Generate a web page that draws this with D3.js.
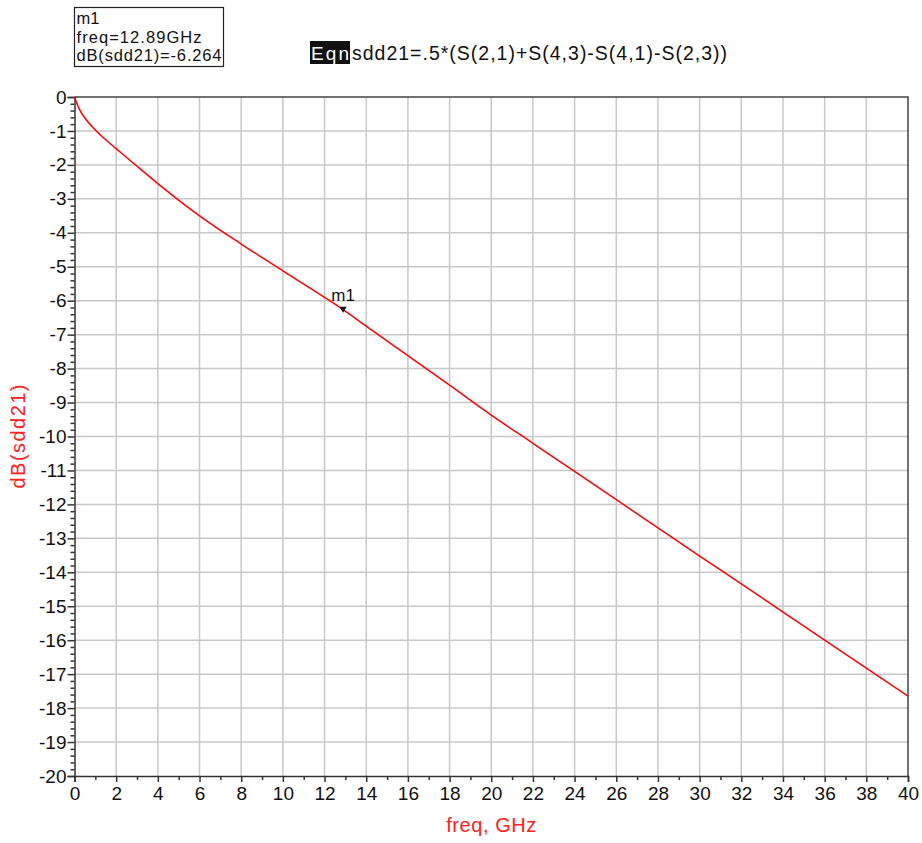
<!DOCTYPE html>
<html>
<head>
<meta charset="utf-8">
<script src="https://cdn.jsdelivr.net/npm/d3@7"></script>
<style>
  body { margin: 0; background: #fff; }
  svg { font-family: "Liberation Sans", Arial, sans-serif; }
</style>
</head>
<body>
<div id="chart"></div>
<script>
// curve: freq (GHz) -> dB(sdd21)
const freq = [0, 0.25, 0.5, 1, 1.5, 2, 3, 4, 6, 8, 10, 12, 12.89, 14, 16, 18, 20, 22, 24, 26, 28, 30, 32, 34, 36, 38, 40];
const sdd21 = [0, -0.38, -0.62, -0.97, -1.26, -1.52, -2.04, -2.55, -3.5, -4.33, -5.12, -5.9, -6.264, -6.75, -7.62, -8.49, -9.37, -10.2, -11.03, -11.86, -12.69, -13.52, -14.34, -15.17, -16.0, -16.82, -17.65];

const xTicks = d3.range(0, 41, 2);
const yTicks = d3.range(0, -21, -1);
const marker = { name: 'm1', f: 12.89, v: -6.264 };
const eqnText = 'sdd21=.5*(S(2,1)+S(4,3)-S(4,1)-S(2,3))';

const width = 922, height = 843;
const margin = [97, 67, 74.5, 14]; // top, bottom, left, right

const svg = d3.select('#chart').append('svg')
    .attr('width', width)
    .attr('height', height);

const x = d3.scaleLinear([0, 40], [margin[2], width - margin[3]]);
const y = d3.scaleLinear([-20, 0], [height - margin[1], margin[0]]);

// grid
const grid = svg.append('g').attr('stroke', '#c8c8c8').attr('stroke-width', 1.5);
grid.selectAll('.gx').data(xTicks.slice(1, -1)).join('line')
    .attr('x1', d => x(d)).attr('x2', d => x(d))
    .attr('y1', y(0)).attr('y2', y(-20));
grid.selectAll('.gy').data(yTicks.slice(1, -1)).join('line')
    .attr('y1', d => y(d)).attr('y2', d => y(d))
    .attr('x1', x(0)).attr('x2', x(40));

// frame (top and right)
svg.append('path')
    .attr('d', `M${x(0)},${y(0)}H${x(40)}V${y(-20)}`)
    .attr('fill', 'none').attr('stroke', '#444').attr('stroke-width', 1.5);

const fmt = d => String(d); // plain hyphen minus, as in the original

// axes
const xAxis = svg.append('g')
    .attr('transform', `translate(0,${y(-20)})`)
    .call(d3.axisBottom(x).tickValues(xTicks).tickSize(6).tickPadding(3).tickFormat(fmt));
svg.append('g')
    .attr('transform', `translate(0,${y(-20)})`)
    .call(d3.axisBottom(x).tickValues(d3.range(1, 40, 2)).tickSize(4).tickFormat(''))
    .call(g => g.select('.domain').remove());

svg.append('g')
    .attr('transform', `translate(${x(0)},0)`)
    .call(d3.axisLeft(y).tickValues(yTicks).tickSize(7).tickPadding(1).tickFormat(fmt));
svg.append('g')
    .attr('transform', `translate(${x(0)},0)`)
    .call(d3.axisLeft(y).tickValues(d3.range(-20, 0.01, 0.2).filter(v => Math.abs(v - Math.round(v)) > 0.01)).tickSize(4).tickFormat(''))
    .call(g => g.select('.domain').remove());

svg.selectAll('.domain').attr('stroke', '#333').attr('stroke-width', 1.5);
svg.selectAll('.tick line').attr('stroke', '#333').attr('stroke-width', 1.5);
svg.selectAll('.tick text').attr('font-size', 19).attr('fill', '#111')
    .attr('font-family', '"Liberation Sans", Arial, sans-serif');
xAxis.selectAll('.tick text').attr('dy', '0.8em');

// curve
svg.append('path')
    .datum(d3.zip(freq, sdd21))
    .attr('fill', 'none')
    .attr('stroke', '#ff0000')
    .attr('stroke-width', 1.5)
    .attr('d', d3.line().x(d => x(d[0])).y(d => y(d[1])).curve(d3.curveMonotoneX));

// marker
const mx = x(marker.f), my = y(marker.v);
svg.append('path')
    .attr('d', `M${mx - 3.5},${my - 3}L${mx + 3.5},${my - 3}L${mx},${my + 3}Z`)
    .attr('fill', '#111');
svg.append('text')
    .attr('x', mx).attr('y', my - 9)
    .attr('text-anchor', 'middle')
    .attr('font-size', 17).attr('fill', '#111')
    .text(marker.name);

// axis titles
svg.append('text')
    .attr('x', x(20)).attr('y', 832)
    .attr('text-anchor', 'middle')
    .attr('font-size', 20).attr('fill', '#ff2020')
    .attr('textLength', 90)
    .text('freq, GHz');
svg.append('text')
    .attr('transform', `translate(25,${y(-10)}) rotate(-90)`)
    .attr('text-anchor', 'middle')
    .attr('font-size', 20).attr('fill', '#ff2020')
    .attr('textLength', 104)
    .text('dB(sdd21)');

// marker readout box
svg.append('rect')
    .attr('x', 74.5).attr('y', 7.5).attr('width', 149).attr('height', 59)
    .attr('fill', '#fff').attr('stroke', '#222').attr('stroke-width', 1.2);
svg.selectAll('.mlabel')
    .data([marker.name, `freq=${marker.f}GHz`, `dB(sdd21)=${marker.v}`])
    .join('text')
    .attr('x', 76.5).attr('y', (d, i) => 24 + i * 18.5)
    .attr('font-size', 16.5).attr('fill', '#111')
    .attr('textLength', (d, i) => [null, 125, 145][i])
    .text(d => d);

// equation
svg.append('rect')
    .attr('x', 310).attr('y', 41).attr('width', 40).attr('height', 23)
    .attr('fill', '#111');
svg.append('text')
    .attr('x', 311).attr('y', 60)
    .attr('font-size', 19).attr('fill', '#fff')
    .attr('textLength', 38)
    .text('Eqn');
svg.append('text')
    .attr('x', 352).attr('y', 60)
    .attr('font-size', 19.5).attr('fill', '#111')
    .attr('textLength', 375)
    .text(eqnText);
</script>
</body>
</html>
